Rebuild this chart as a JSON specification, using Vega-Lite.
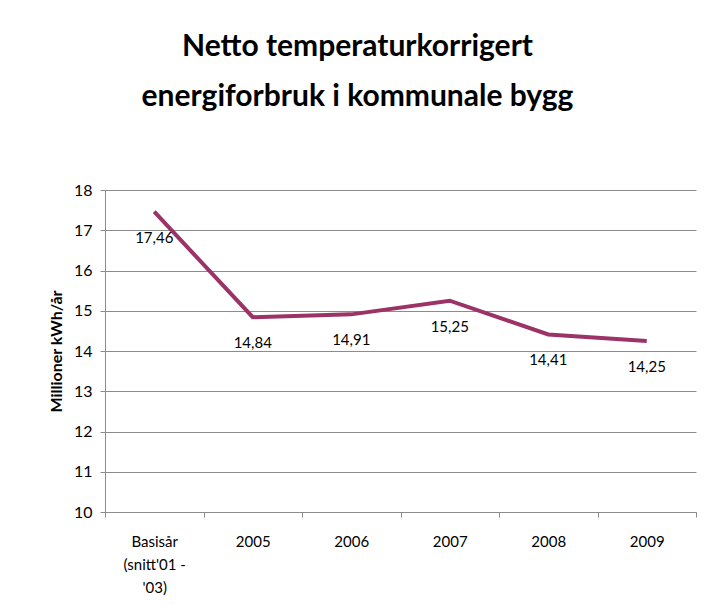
{
  "$schema": "https://vega.github.io/schema/vega-lite/v6.json",
  "width": 591,
  "height": 322,
  "autosize": {"type": "none"},
  "padding": {"left": 105, "top": 190, "right": 11, "bottom": 100},
  "background": "white",
  "config": {
    "font": "Lato",
    "view": {"stroke": null},
    "locale": {"number": {"decimal": ",", "thousands": " ", "grouping": [3], "currency": ["", " kr"]}}
  },
  "title": {
    "text": ["Netto temperaturkorrigert", "energiforbruk i kommunale bygg"],
    "font": "Lato",
    "fontSize": 30,
    "fontWeight": "bold",
    "color": "#000000",
    "lineHeight": 50,
    "anchor": "middle",
    "dx": -43,
    "offset": 70
  },
  "data": {
    "values": [
      {"periode": "Basisår (snitt'01 - '03)", "verdi": 17.46},
      {"periode": "2005", "verdi": 14.84},
      {"periode": "2006", "verdi": 14.91},
      {"periode": "2007", "verdi": 15.25},
      {"periode": "2008", "verdi": 14.41},
      {"periode": "2009", "verdi": 14.25}
    ]
  },
  "encoding": {
    "x": {
      "field": "periode",
      "type": "nominal",
      "sort": null,
      "scale": {"paddingInner": 0, "paddingOuter": 0},
      "axis": {
        "title": null,
        "labelAngle": 0,
        "labelFontSize": 15,
        "labelColor": "#000000",
        "labelPadding": 17,
        "labelLineHeight": 23,
        "labelExpr": "datum.value == \"Basisår (snitt'01 - '03)\" ? ['Basisår', \"(snitt'01 -\", \"'03)\"] : datum.value",
        "tickBand": "extent",
        "tickColor": "#8c8c8c",
        "tickSize": 5,
        "domainColor": "#8c8c8c",
        "grid": false
      }
    },
    "y": {
      "field": "verdi",
      "type": "quantitative",
      "scale": {"domain": [10, 18], "nice": false, "zero": false},
      "axis": {
        "title": "Millioner kWh/år",
        "titleFontSize": 16,
        "titleFontWeight": "bold",
        "titleColor": "#000000",
        "titlePadding": 9,
        "values": [10, 11, 12, 13, 14, 15, 16, 17, 18],
        "labelFontSize": 16,
        "labelColor": "#000000",
        "labelPadding": 8,
        "tickColor": "#8c8c8c",
        "tickSize": 5,
        "domainColor": "#8c8c8c",
        "gridColor": "#8c8c8c",
        "gridOpacity": 1
      }
    }
  },
  "layer": [
    {
      "mark": {"type": "line", "color": "#9B3366", "strokeWidth": 4}
    },
    {
      "mark": {"type": "text", "dy": 26, "fontSize": 15, "color": "#000000", "font": "Lato"},
      "encoding": {
        "text": {"field": "verdi", "type": "quantitative", "format": ".2f"}
      }
    }
  ]
}
